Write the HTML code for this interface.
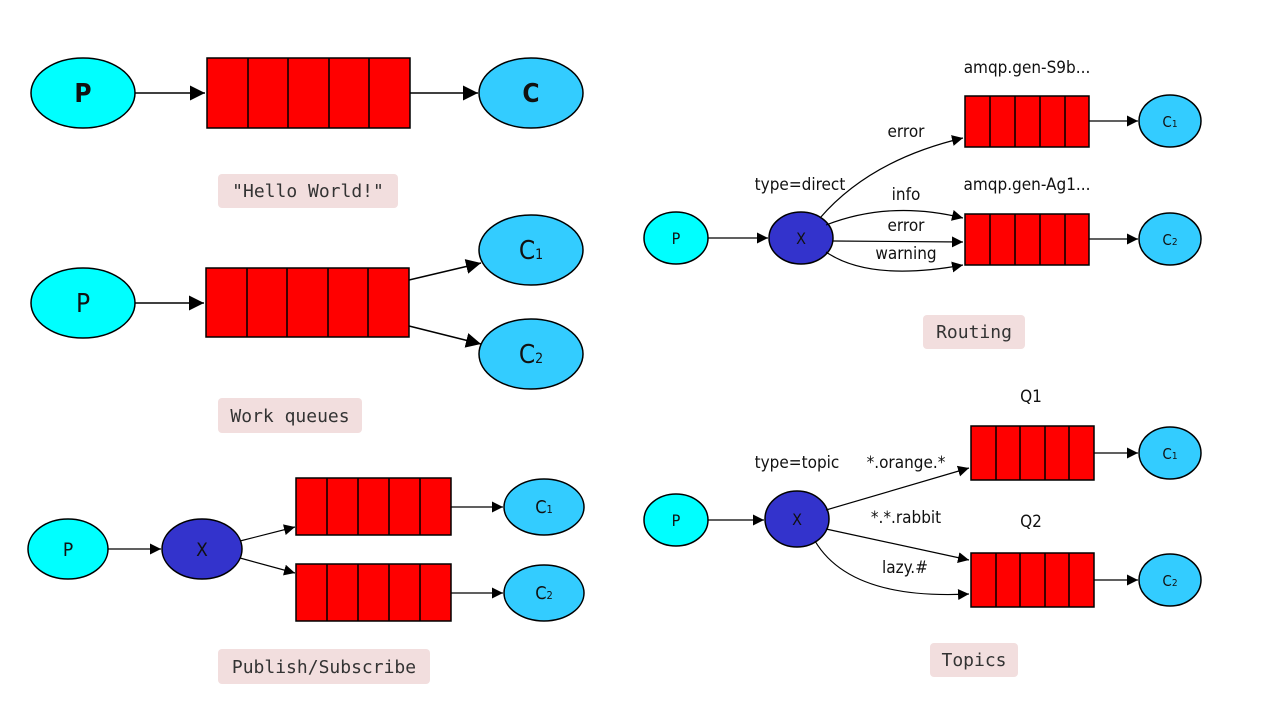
<!DOCTYPE html>
<html><head><meta charset="utf-8"><style>
html,body{margin:0;padding:0;background:#fff;width:1280px;height:720px;overflow:hidden}
svg{display:block}
.l{font-family:"DejaVu Sans Condensed","DejaVu Sans","Liberation Sans",sans-serif;fill:#111}
.m{font-family:"DejaVu Sans Mono","Liberation Mono",monospace;fill:#333;font-size:18px}
</style></head><body>
<svg width="1280" height="720" viewBox="0 0 1280 720">
<defs>
<marker id="a" viewBox="0 0 10 10" refX="10" refY="5" markerWidth="11" markerHeight="11" markerUnits="userSpaceOnUse" orient="auto"><path d="M0,0L10,5L0,10z" fill="#000"/></marker>
<marker id="b" viewBox="0 0 10 10" refX="10" refY="5" markerWidth="15" markerHeight="15" markerUnits="userSpaceOnUse" orient="auto"><path d="M0,0L10,5L0,10z" fill="#000"/></marker>
</defs>
<g stroke="#000" stroke-width="1.5">
<ellipse cx="83" cy="93" rx="52" ry="35" fill="#00ffff"/>
<ellipse cx="531" cy="93" rx="52" ry="35" fill="#33ccff"/>
<rect x="207" y="58" width="203" height="70" fill="#f00"/>
<path d="M248 58V128M288 58V128M329 58V128M369 58V128" fill="none"/>
<path d="M135 93H205" marker-end="url(#b)"/>
<path d="M410 93H478" marker-end="url(#b)"/>
<ellipse cx="83" cy="303" rx="52" ry="35" fill="#00ffff"/>
<ellipse cx="531" cy="250" rx="52" ry="35" fill="#33ccff"/>
<ellipse cx="531" cy="354" rx="52" ry="35" fill="#33ccff"/>
<rect x="206" y="268" width="203" height="69" fill="#f00"/>
<path d="M247 268V337M287 268V337M328 268V337M368 268V337" fill="none"/>
<path d="M135 303H204" marker-end="url(#b)"/>
<path d="M409 280L481 263" marker-end="url(#b)"/>
<path d="M409 326L481 344" marker-end="url(#b)"/>
<ellipse cx="68" cy="549" rx="40" ry="30" fill="#00ffff"/>
<ellipse cx="202" cy="549" rx="40" ry="30" fill="#3333cc"/>
<ellipse cx="544" cy="507" rx="40" ry="28" fill="#33ccff"/>
<ellipse cx="544" cy="593" rx="40" ry="28" fill="#33ccff"/>
<rect x="296" y="478" width="155" height="57" fill="#f00"/>
<path d="M327 478V535M358 478V535M389 478V535M420 478V535" fill="none"/>
<rect x="296" y="564" width="155" height="57" fill="#f00"/>
<path d="M327 564V621M358 564V621M389 564V621M420 564V621" fill="none"/>
<path d="M108 549H161" marker-end="url(#a)" stroke-width="1.2"/>
<path d="M240 541L295 527" marker-end="url(#a)" stroke-width="1.2"/>
<path d="M240 558L295 573" marker-end="url(#a)" stroke-width="1.2"/>
<path d="M451 507H503" marker-end="url(#a)" stroke-width="1.2"/>
<path d="M451 593H503" marker-end="url(#a)" stroke-width="1.2"/>
<ellipse cx="676" cy="238" rx="32" ry="26" fill="#00ffff"/>
<ellipse cx="801" cy="238" rx="32" ry="26" fill="#3333cc"/>
<ellipse cx="1170" cy="121" rx="31" ry="26" fill="#33ccff"/>
<ellipse cx="1170" cy="239" rx="31" ry="26" fill="#33ccff"/>
<rect x="965" y="96" width="124" height="51" fill="#f00"/>
<path d="M990 96V147M1015 96V147M1040 96V147M1065 96V147" fill="none"/>
<rect x="965" y="214" width="124" height="51" fill="#f00"/>
<path d="M990 214V265M1015 214V265M1040 214V265M1065 214V265" fill="none"/>
<g stroke-width="1.2" fill="none">
<path d="M708 238H768" marker-end="url(#a)"/>
<path d="M1089 121H1138" marker-end="url(#a)"/>
<path d="M1089 239H1138" marker-end="url(#a)"/>
<path d="M820 218Q870 160 963 138" marker-end="url(#a)"/>
<path d="M826 225Q890 200 963 218" marker-end="url(#a)"/>
<path d="M833 241L963 242" marker-end="url(#a)"/>
<path d="M826 252Q870 282 963 265" marker-end="url(#a)"/>
</g>
<ellipse cx="676" cy="520" rx="32" ry="26" fill="#00ffff"/>
<ellipse cx="797" cy="519" rx="32" ry="28" fill="#3333cc"/>
<ellipse cx="1170" cy="453" rx="31" ry="26" fill="#33ccff"/>
<ellipse cx="1170" cy="580" rx="31" ry="26" fill="#33ccff"/>
<rect x="971" y="426" width="123" height="54" fill="#f00"/>
<path d="M996 426V480M1020 426V480M1045 426V480M1069 426V480" fill="none"/>
<rect x="971" y="553" width="123" height="54" fill="#f00"/>
<path d="M996 553V607M1020 553V607M1045 553V607M1069 553V607" fill="none"/>
<g stroke-width="1.2" fill="none">
<path d="M708 520H764" marker-end="url(#a)"/>
<path d="M1094 453H1138" marker-end="url(#a)"/>
<path d="M1094 580H1138" marker-end="url(#a)"/>
<path d="M826 510L969 468" marker-end="url(#a)"/>
<path d="M826 529L969 560" marker-end="url(#a)"/>
<path d="M815 541Q850 600 969 594" marker-end="url(#a)"/>
</g>
</g>
<rect x="218" y="174" width="180" height="34" rx="4" fill="#f2dede"/>
<text class="m" x="308" y="197" text-anchor="middle">"Hello World!"</text>
<rect x="218" y="398" width="144" height="35" rx="4" fill="#f2dede"/>
<text class="m" x="290" y="422" text-anchor="middle">Work queues</text>
<rect x="218" y="649" width="212" height="35" rx="4" fill="#f2dede"/>
<text class="m" x="324" y="673" text-anchor="middle">Publish/Subscribe</text>
<rect x="923" y="315" width="102" height="34" rx="4" fill="#f2dede"/>
<text class="m" x="974" y="338" text-anchor="middle">Routing</text>
<rect x="930" y="643" width="88" height="34" rx="4" fill="#f2dede"/>
<text class="m" x="974" y="666" text-anchor="middle">Topics</text>
<g class="l" text-anchor="middle">
<text x="83" y="102" font-size="26" font-weight="bold">P</text>
<text x="531" y="102" font-size="26" font-weight="bold">C</text>
<text x="83" y="312" font-size="26">P</text>
<text x="531" y="259" font-size="26">C<tspan font-size="14">1</tspan></text>
<text x="531" y="363" font-size="26">C<tspan font-size="14">2</tspan></text>
<text x="68" y="556" font-size="19">P</text>
<text x="202" y="556" font-size="19">X</text>
<text x="544" y="513" font-size="18">C<tspan font-size="11">1</tspan></text>
<text x="544" y="599" font-size="18">C<tspan font-size="11">2</tspan></text>
<text x="676" y="244" font-size="16">P</text>
<text x="801" y="244" font-size="16">X</text>
<text x="1170" y="127" font-size="15">C<tspan font-size="10">1</tspan></text>
<text x="1170" y="245" font-size="15">C<tspan font-size="10">2</tspan></text>
<text x="676" y="526" font-size="16">P</text>
<text x="797" y="525" font-size="16">X</text>
<text x="1170" y="459" font-size="15">C<tspan font-size="10">1</tspan></text>
<text x="1170" y="586" font-size="15">C<tspan font-size="10">2</tspan></text>
<g font-size="17">
<text x="1027" y="73">amqp.gen-S9b...</text>
<text x="1027" y="190">amqp.gen-Ag1...</text>
<text x="800" y="190">type=direct</text>
<text x="906" y="137">error</text>
<text x="906" y="200">info</text>
<text x="906" y="231">error</text>
<text x="906" y="259">warning</text>
<text x="1031" y="402">Q1</text>
<text x="1031" y="527">Q2</text>
<text x="797" y="468">type=topic</text>
<text x="906" y="468">*.orange.*</text>
<text x="906" y="523">*.*.rabbit</text>
<text x="905" y="573">lazy.#</text>
</g>
</g>
</svg>
</body></html>
